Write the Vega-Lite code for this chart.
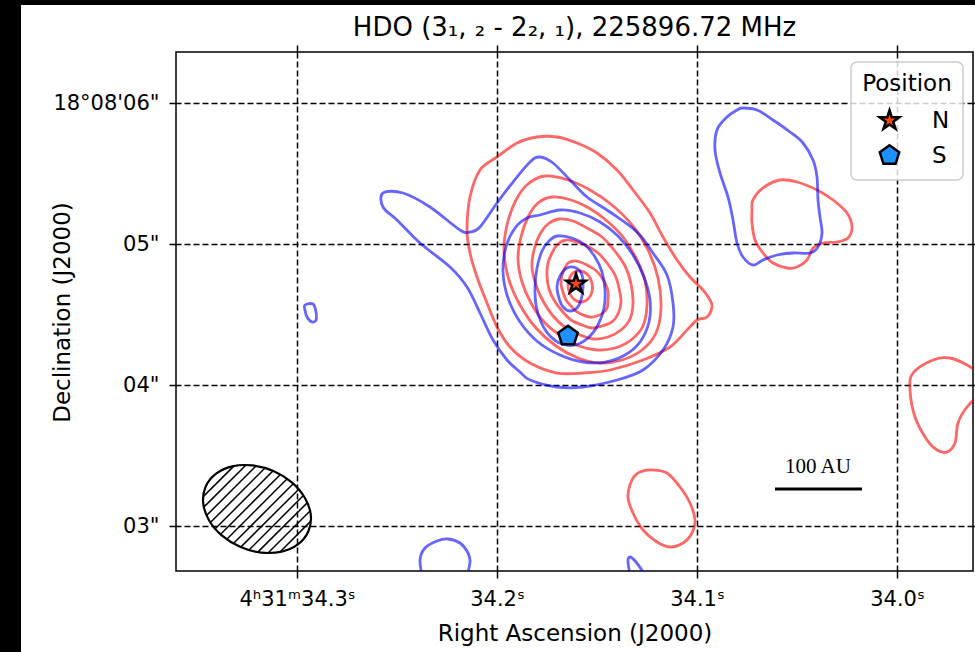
{
"$schema":"https://vega.github.io/schema/vega-lite/v6.json",
"width":797,"height":519,
"autosize":{"type":"none"},
"padding":{"left":176,"top":52,"right":2,"bottom":81},
"background":"white",
"title":{"text":"HDO (3₁, ₂ - 2₂, ₁), 225896.72 MHz","fontSize":26,"font":"DejaVu Sans","fontWeight":"normal","color":"black","anchor":"middle","frame":"group","offset":0,"dy":41},
"datasets":{
"closed":[
{"c":"R1","s":"r","i":1,"ra":34.2150,"de":5.0993},{"c":"R1","s":"r","i":2,"ra":34.2135,"de":5.3334},{"c":"R1","s":"r","i":3,"ra":34.2085,"de":5.5249},{"c":"R1","s":"r","i":4,"ra":34.2000,"de":5.6171},{"c":"R1","s":"r","i":5,"ra":34.1900,"de":5.7163},{"c":"R1","s":"r","i":6,"ra":34.1800,"de":5.7589},{"c":"R1","s":"r","i":7,"ra":34.1700,"de":5.7589},{"c":"R1","s":"r","i":8,"ra":34.1600,"de":5.7163},{"c":"R1","s":"r","i":9,"ra":34.1500,"de":5.6454},{"c":"R1","s":"r","i":10,"ra":34.1400,"de":5.5249},{"c":"R1","s":"r","i":11,"ra":34.1320,"de":5.3830},{"c":"R1","s":"r","i":12,"ra":34.1235,"de":5.2199},{"c":"R1","s":"r","i":13,"ra":34.1170,"de":5.0497},{"c":"R1","s":"r","i":14,"ra":34.1100,"de":4.8866},{"c":"R1","s":"r","i":15,"ra":34.1035,"de":4.7660},{"c":"R1","s":"r","i":16,"ra":34.0970,"de":4.6738},{"c":"R1","s":"r","i":17,"ra":34.0935,"de":4.6029},{"c":"R1","s":"r","i":18,"ra":34.0925,"de":4.5533},{"c":"R1","s":"r","i":19,"ra":34.0950,"de":4.4823},{"c":"R1","s":"r","i":20,"ra":34.1000,"de":4.4611},{"c":"R1","s":"r","i":21,"ra":34.1050,"de":4.3901},{"c":"R1","s":"r","i":22,"ra":34.1135,"de":4.2696},{"c":"R1","s":"r","i":23,"ra":34.1270,"de":4.1773},{"c":"R1","s":"r","i":24,"ra":34.1435,"de":4.1064},{"c":"R1","s":"r","i":25,"ra":34.1570,"de":4.0851},{"c":"R1","s":"r","i":26,"ra":34.1700,"de":4.0851},{"c":"R1","s":"r","i":27,"ra":34.1835,"de":4.1560},{"c":"R1","s":"r","i":28,"ra":34.1935,"de":4.2696},{"c":"R1","s":"r","i":29,"ra":34.2000,"de":4.4114},{"c":"R1","s":"r","i":30,"ra":34.2050,"de":4.5816},{"c":"R1","s":"r","i":31,"ra":34.2100,"de":4.7660},{"c":"R1","s":"r","i":32,"ra":34.2135,"de":4.9362},
{"c":"R2","s":"r","i":1,"ra":34.1760,"de":5.4823},{"c":"R2","s":"r","i":2,"ra":34.1645,"de":5.4539},{"c":"R2","s":"r","i":3,"ra":34.1535,"de":5.3830},{"c":"R2","s":"r","i":4,"ra":34.1425,"de":5.2766},{"c":"R2","s":"r","i":5,"ra":34.1325,"de":5.1348},{"c":"R2","s":"r","i":6,"ra":34.1245,"de":4.9575},{"c":"R2","s":"r","i":7,"ra":34.1195,"de":4.7589},{"c":"R2","s":"r","i":8,"ra":34.1180,"de":4.5462},{"c":"R2","s":"r","i":9,"ra":34.1205,"de":4.3689},{"c":"R2","s":"r","i":10,"ra":34.1275,"de":4.2482},{"c":"R2","s":"r","i":11,"ra":34.1375,"de":4.1773},{"c":"R2","s":"r","i":12,"ra":34.1485,"de":4.1560},{"c":"R2","s":"r","i":13,"ra":34.1595,"de":4.1915},{"c":"R2","s":"r","i":14,"ra":34.1705,"de":4.2767},{"c":"R2","s":"r","i":15,"ra":34.1805,"de":4.4043},{"c":"R2","s":"r","i":16,"ra":34.1885,"de":4.5674},{"c":"R2","s":"r","i":17,"ra":34.1940,"de":4.7447},{"c":"R2","s":"r","i":18,"ra":34.1965,"de":4.9433},{"c":"R2","s":"r","i":19,"ra":34.1950,"de":5.1348},{"c":"R2","s":"r","i":20,"ra":34.1905,"de":5.3121},{"c":"R2","s":"r","i":21,"ra":34.1845,"de":5.4256},
{"c":"R3","s":"r","i":1,"ra":34.1725,"de":5.3334},{"c":"R3","s":"r","i":2,"ra":34.1630,"de":5.3121},{"c":"R3","s":"r","i":3,"ra":34.1540,"de":5.2554},{"c":"R3","s":"r","i":4,"ra":34.1450,"de":5.1632},{"c":"R3","s":"r","i":5,"ra":34.1370,"de":5.0497},{"c":"R3","s":"r","i":6,"ra":34.1305,"de":4.9008},{"c":"R3","s":"r","i":7,"ra":34.1260,"de":4.7376},{"c":"R3","s":"r","i":8,"ra":34.1250,"de":4.5674},{"c":"R3","s":"r","i":9,"ra":34.1270,"de":4.4185},{"c":"R3","s":"r","i":10,"ra":34.1330,"de":4.3192},{"c":"R3","s":"r","i":11,"ra":34.1410,"de":4.2625},{"c":"R3","s":"r","i":12,"ra":34.1500,"de":4.2482},{"c":"R3","s":"r","i":13,"ra":34.1590,"de":4.2767},{"c":"R3","s":"r","i":14,"ra":34.1680,"de":4.3476},{"c":"R3","s":"r","i":15,"ra":34.1765,"de":4.4469},{"c":"R3","s":"r","i":16,"ra":34.1830,"de":4.5816},{"c":"R3","s":"r","i":17,"ra":34.1875,"de":4.7305},{"c":"R3","s":"r","i":18,"ra":34.1895,"de":4.8937},{"c":"R3","s":"r","i":19,"ra":34.1880,"de":5.0497},{"c":"R3","s":"r","i":20,"ra":34.1845,"de":5.1915},{"c":"R3","s":"r","i":21,"ra":34.1795,"de":5.2908},
{"c":"R4","s":"r","i":1,"ra":34.1690,"de":5.1773},{"c":"R4","s":"r","i":2,"ra":34.1620,"de":5.1632},{"c":"R4","s":"r","i":3,"ra":34.1550,"de":5.1135},{"c":"R4","s":"r","i":4,"ra":34.1475,"de":5.0497},{"c":"R4","s":"r","i":5,"ra":34.1415,"de":4.9575},{"c":"R4","s":"r","i":6,"ra":34.1360,"de":4.8440},{"c":"R4","s":"r","i":7,"ra":34.1330,"de":4.7164},{"c":"R4","s":"r","i":8,"ra":34.1320,"de":4.5816},{"c":"R4","s":"r","i":9,"ra":34.1335,"de":4.4681},{"c":"R4","s":"r","i":10,"ra":34.1380,"de":4.3901},{"c":"R4","s":"r","i":11,"ra":34.1445,"de":4.3405},{"c":"R4","s":"r","i":12,"ra":34.1515,"de":4.3263},{"c":"R4","s":"r","i":13,"ra":34.1585,"de":4.3547},{"c":"R4","s":"r","i":14,"ra":34.1655,"de":4.4043},{"c":"R4","s":"r","i":15,"ra":34.1720,"de":4.4894},{"c":"R4","s":"r","i":16,"ra":34.1770,"de":4.5958},{"c":"R4","s":"r","i":17,"ra":34.1805,"de":4.7093},{"c":"R4","s":"r","i":18,"ra":34.1825,"de":4.8369},{"c":"R4","s":"r","i":19,"ra":34.1815,"de":4.9575},{"c":"R4","s":"r","i":20,"ra":34.1785,"de":5.0710},{"c":"R4","s":"r","i":21,"ra":34.1745,"de":5.1419},
{"c":"R5","s":"r","i":1,"ra":34.1655,"de":5.0284},{"c":"R5","s":"r","i":2,"ra":34.1600,"de":5.0142},{"c":"R5","s":"r","i":3,"ra":34.1550,"de":4.9859},{"c":"R5","s":"r","i":4,"ra":34.1495,"de":4.9362},{"c":"R5","s":"r","i":5,"ra":34.1450,"de":4.8653},{"c":"R5","s":"r","i":6,"ra":34.1410,"de":4.7802},{"c":"R5","s":"r","i":7,"ra":34.1390,"de":4.6880},{"c":"R5","s":"r","i":8,"ra":34.1380,"de":4.5887},{"c":"R5","s":"r","i":9,"ra":34.1395,"de":4.5036},{"c":"R5","s":"r","i":10,"ra":34.1425,"de":4.4469},{"c":"R5","s":"r","i":11,"ra":34.1475,"de":4.4185},{"c":"R5","s":"r","i":12,"ra":34.1525,"de":4.4043},{"c":"R5","s":"r","i":13,"ra":34.1575,"de":4.4256},{"c":"R5","s":"r","i":14,"ra":34.1630,"de":4.4611},{"c":"R5","s":"r","i":15,"ra":34.1675,"de":4.5249},{"c":"R5","s":"r","i":16,"ra":34.1715,"de":4.6029},{"c":"R5","s":"r","i":17,"ra":34.1740,"de":4.6809},{"c":"R5","s":"r","i":18,"ra":34.1750,"de":4.7731},{"c":"R5","s":"r","i":19,"ra":34.1745,"de":4.8653},{"c":"R5","s":"r","i":20,"ra":34.1720,"de":4.9504},{"c":"R5","s":"r","i":21,"ra":34.1695,"de":5.0000},
{"c":"R6","s":"r","i":1,"ra":34.1615,"de":4.8795},{"c":"R6","s":"r","i":2,"ra":34.1585,"de":4.8724},{"c":"R6","s":"r","i":3,"ra":34.1550,"de":4.8511},{"c":"R6","s":"r","i":4,"ra":34.1515,"de":4.8227},{"c":"R6","s":"r","i":5,"ra":34.1485,"de":4.7802},{"c":"R6","s":"r","i":6,"ra":34.1460,"de":4.7235},{"c":"R6","s":"r","i":7,"ra":34.1445,"de":4.6667},{"c":"R6","s":"r","i":8,"ra":34.1445,"de":4.6029},{"c":"R6","s":"r","i":9,"ra":34.1450,"de":4.5462},{"c":"R6","s":"r","i":10,"ra":34.1470,"de":4.5107},{"c":"R6","s":"r","i":11,"ra":34.1500,"de":4.4894},{"c":"R6","s":"r","i":12,"ra":34.1535,"de":4.4823},{"c":"R6","s":"r","i":13,"ra":34.1570,"de":4.4965},{"c":"R6","s":"r","i":14,"ra":34.1600,"de":4.5178},{"c":"R6","s":"r","i":15,"ra":34.1630,"de":4.5603},{"c":"R6","s":"r","i":16,"ra":34.1655,"de":4.6029},{"c":"R6","s":"r","i":17,"ra":34.1670,"de":4.6596},{"c":"R6","s":"r","i":18,"ra":34.1680,"de":4.7164},{"c":"R6","s":"r","i":19,"ra":34.1675,"de":4.7802},{"c":"R6","s":"r","i":20,"ra":34.1660,"de":4.8298},{"c":"R6","s":"r","i":21,"ra":34.1645,"de":4.8653},
{"c":"R7","s":"r","i":1,"ra":34.1625,"de":4.7873},{"c":"R7","s":"r","i":2,"ra":34.1585,"de":4.8086},{"c":"R7","s":"r","i":3,"ra":34.1545,"de":4.7802},{"c":"R7","s":"r","i":4,"ra":34.1525,"de":4.7235},{"c":"R7","s":"r","i":5,"ra":34.1525,"de":4.6596},{"c":"R7","s":"r","i":6,"ra":34.1545,"de":4.6100},{"c":"R7","s":"r","i":7,"ra":34.1575,"de":4.5887},{"c":"R7","s":"r","i":8,"ra":34.1610,"de":4.6029},{"c":"R7","s":"r","i":9,"ra":34.1635,"de":4.6454},{"c":"R7","s":"r","i":10,"ra":34.1645,"de":4.7093},
{"c":"R8","s":"r","i":1,"ra":34.0720,"de":5.3121},{"c":"R8","s":"r","i":2,"ra":34.0670,"de":5.3972},{"c":"R8","s":"r","i":3,"ra":34.0585,"de":5.4539},{"c":"R8","s":"r","i":4,"ra":34.0500,"de":5.4397},{"c":"R8","s":"r","i":5,"ra":34.0400,"de":5.3830},{"c":"R8","s":"r","i":6,"ra":34.0320,"de":5.3121},{"c":"R8","s":"r","i":7,"ra":34.0250,"de":5.2199},{"c":"R8","s":"r","i":8,"ra":34.0225,"de":5.1206},{"c":"R8","s":"r","i":9,"ra":34.0245,"de":5.0426},{"c":"R8","s":"r","i":10,"ra":34.0300,"de":5.0142},{"c":"R8","s":"r","i":11,"ra":34.0370,"de":5.0071},{"c":"R8","s":"r","i":12,"ra":34.0420,"de":4.9717},{"c":"R8","s":"r","i":13,"ra":34.0450,"de":4.8866},{"c":"R8","s":"r","i":14,"ra":34.0500,"de":4.8369},{"c":"R8","s":"r","i":15,"ra":34.0550,"de":4.8298},{"c":"R8","s":"r","i":16,"ra":34.0620,"de":4.8653},{"c":"R8","s":"r","i":17,"ra":34.0670,"de":4.9362},{"c":"R8","s":"r","i":18,"ra":34.0710,"de":5.0284},{"c":"R8","s":"r","i":19,"ra":34.0725,"de":5.1490},{"c":"R8","s":"r","i":20,"ra":34.0725,"de":5.2412},
{"c":"R10","s":"r","i":1,"ra":34.1220,"de":3.3972},{"c":"R10","s":"r","i":2,"ra":34.1150,"de":3.3759},{"c":"R10","s":"r","i":3,"ra":34.1085,"de":3.2766},{"c":"R10","s":"r","i":4,"ra":34.1035,"de":3.1631},{"c":"R10","s":"r","i":5,"ra":34.1010,"de":3.0426},{"c":"R10","s":"r","i":6,"ra":34.1025,"de":2.9504},{"c":"R10","s":"r","i":7,"ra":34.1070,"de":2.8794},{"c":"R10","s":"r","i":8,"ra":34.1135,"de":2.8511},{"c":"R10","s":"r","i":9,"ra":34.1200,"de":2.8865},{"c":"R10","s":"r","i":10,"ra":34.1270,"de":2.9716},{"c":"R10","s":"r","i":11,"ra":34.1320,"de":3.0922},{"c":"R10","s":"r","i":12,"ra":34.1345,"de":3.2057},{"c":"R10","s":"r","i":13,"ra":34.1325,"de":3.3262},{"c":"R10","s":"r","i":14,"ra":34.1285,"de":3.3830},
{"c":"B1","s":"b","i":1,"ra":34.2570,"de":5.3617},{"c":"B1","s":"b","i":2,"ra":34.2470,"de":5.3617},{"c":"B1","s":"b","i":3,"ra":34.2335,"de":5.2625},{"c":"B1","s":"b","i":4,"ra":34.2185,"de":5.0993},{"c":"B1","s":"b","i":5,"ra":34.2135,"de":5.0851},{"c":"B1","s":"b","i":6,"ra":34.2085,"de":5.1206},{"c":"B1","s":"b","i":7,"ra":34.2000,"de":5.2908},{"c":"B1","s":"b","i":8,"ra":34.1920,"de":5.4397},{"c":"B1","s":"b","i":9,"ra":34.1835,"de":5.5816},{"c":"B1","s":"b","i":10,"ra":34.1785,"de":5.6171},{"c":"B1","s":"b","i":11,"ra":34.1720,"de":5.5745},{"c":"B1","s":"b","i":12,"ra":34.1635,"de":5.4539},{"c":"B1","s":"b","i":13,"ra":34.1550,"de":5.3334},{"c":"B1","s":"b","i":14,"ra":34.1435,"de":5.2270},{"c":"B1","s":"b","i":15,"ra":34.1300,"de":5.0851},{"c":"B1","s":"b","i":16,"ra":34.1220,"de":4.9362},{"c":"B1","s":"b","i":17,"ra":34.1150,"de":4.7802},{"c":"B1","s":"b","i":18,"ra":34.1120,"de":4.5816},{"c":"B1","s":"b","i":19,"ra":34.1120,"de":4.4114},{"c":"B1","s":"b","i":20,"ra":34.1170,"de":4.2482},{"c":"B1","s":"b","i":21,"ra":34.1270,"de":4.1064},{"c":"B1","s":"b","i":22,"ra":34.1400,"de":4.0354},{"c":"B1","s":"b","i":23,"ra":34.1570,"de":3.9858},{"c":"B1","s":"b","i":24,"ra":34.1700,"de":3.9858},{"c":"B1","s":"b","i":25,"ra":34.1835,"de":4.0354},{"c":"B1","s":"b","i":26,"ra":34.1885,"de":4.0922},{"c":"B1","s":"b","i":27,"ra":34.1950,"de":4.1773},{"c":"B1","s":"b","i":28,"ra":34.2020,"de":4.3192},{"c":"B1","s":"b","i":29,"ra":34.2085,"de":4.5107},{"c":"B1","s":"b","i":30,"ra":34.2150,"de":4.6951},{"c":"B1","s":"b","i":31,"ra":34.2235,"de":4.8369},{"c":"B1","s":"b","i":32,"ra":34.2385,"de":5.0071},{"c":"B1","s":"b","i":33,"ra":34.2500,"de":5.1703},{"c":"B1","s":"b","i":34,"ra":34.2570,"de":5.2625},
{"c":"B2","s":"b","i":1,"ra":34.1785,"de":5.2057},{"c":"B2","s":"b","i":2,"ra":34.1685,"de":5.2412},{"c":"B2","s":"b","i":3,"ra":34.1585,"de":5.2199},{"c":"B2","s":"b","i":4,"ra":34.1485,"de":5.1561},{"c":"B2","s":"b","i":5,"ra":34.1395,"de":5.0568},{"c":"B2","s":"b","i":6,"ra":34.1320,"de":4.9220},{"c":"B2","s":"b","i":7,"ra":34.1265,"de":4.7660},{"c":"B2","s":"b","i":8,"ra":34.1235,"de":4.6029},{"c":"B2","s":"b","i":9,"ra":34.1240,"de":4.4469},{"c":"B2","s":"b","i":10,"ra":34.1285,"de":4.3050},{"c":"B2","s":"b","i":11,"ra":34.1360,"de":4.2127},{"c":"B2","s":"b","i":12,"ra":34.1460,"de":4.1631},{"c":"B2","s":"b","i":13,"ra":34.1570,"de":4.1631},{"c":"B2","s":"b","i":14,"ra":34.1685,"de":4.2127},{"c":"B2","s":"b","i":15,"ra":34.1795,"de":4.3050},{"c":"B2","s":"b","i":16,"ra":34.1885,"de":4.4469},{"c":"B2","s":"b","i":17,"ra":34.1945,"de":4.6171},{"c":"B2","s":"b","i":18,"ra":34.1970,"de":4.8015},{"c":"B2","s":"b","i":19,"ra":34.1955,"de":4.9788},{"c":"B2","s":"b","i":20,"ra":34.1910,"de":5.1135},{"c":"B2","s":"b","i":21,"ra":34.1850,"de":5.1844},
{"c":"B3","s":"b","i":1,"ra":34.1700,"de":5.0568},{"c":"B3","s":"b","i":2,"ra":34.1625,"de":5.0426},{"c":"B3","s":"b","i":3,"ra":34.1560,"de":4.9930},{"c":"B3","s":"b","i":4,"ra":34.1510,"de":4.9079},{"c":"B3","s":"b","i":5,"ra":34.1475,"de":4.8015},{"c":"B3","s":"b","i":6,"ra":34.1460,"de":4.6738},{"c":"B3","s":"b","i":7,"ra":34.1465,"de":4.5462},{"c":"B3","s":"b","i":8,"ra":34.1495,"de":4.4256},{"c":"B3","s":"b","i":9,"ra":34.1545,"de":4.3334},{"c":"B3","s":"b","i":10,"ra":34.1610,"de":4.2838},{"c":"B3","s":"b","i":11,"ra":34.1675,"de":4.2908},{"c":"B3","s":"b","i":12,"ra":34.1735,"de":4.3476},{"c":"B3","s":"b","i":13,"ra":34.1780,"de":4.4469},{"c":"B3","s":"b","i":14,"ra":34.1805,"de":4.5674},{"c":"B3","s":"b","i":15,"ra":34.1810,"de":4.6951},{"c":"B3","s":"b","i":16,"ra":34.1800,"de":4.8298},{"c":"B3","s":"b","i":17,"ra":34.1775,"de":4.9504},{"c":"B3","s":"b","i":18,"ra":34.1740,"de":5.0213},
{"c":"B4","s":"b","i":1,"ra":34.1685,"de":4.7731},{"c":"B4","s":"b","i":2,"ra":34.1650,"de":4.8298},{"c":"B4","s":"b","i":3,"ra":34.1605,"de":4.8298},{"c":"B4","s":"b","i":4,"ra":34.1575,"de":4.7802},{"c":"B4","s":"b","i":5,"ra":34.1570,"de":4.6880},{"c":"B4","s":"b","i":6,"ra":34.1580,"de":4.6029},{"c":"B4","s":"b","i":7,"ra":34.1600,"de":4.5462},{"c":"B4","s":"b","i":8,"ra":34.1635,"de":4.5249},{"c":"B4","s":"b","i":9,"ra":34.1670,"de":4.5533},{"c":"B4","s":"b","i":10,"ra":34.1690,"de":4.6171},{"c":"B4","s":"b","i":11,"ra":34.1700,"de":4.6951},
{"c":"B5","s":"b","i":1,"ra":34.0770,"de":5.9646},{"c":"B5","s":"b","i":2,"ra":34.0700,"de":5.9504},{"c":"B5","s":"b","i":3,"ra":34.0620,"de":5.8795},{"c":"B5","s":"b","i":4,"ra":34.0535,"de":5.7943},{"c":"B5","s":"b","i":5,"ra":34.0470,"de":5.7163},{"c":"B5","s":"b","i":6,"ra":34.0420,"de":5.5958},{"c":"B5","s":"b","i":7,"ra":34.0400,"de":5.4752},{"c":"B5","s":"b","i":8,"ra":34.0395,"de":5.3121},{"c":"B5","s":"b","i":9,"ra":34.0385,"de":5.1915},{"c":"B5","s":"b","i":10,"ra":34.0375,"de":5.0781},{"c":"B5","s":"b","i":11,"ra":34.0395,"de":4.9788},{"c":"B5","s":"b","i":12,"ra":34.0435,"de":4.9362},{"c":"B5","s":"b","i":13,"ra":34.0520,"de":4.9362},{"c":"B5","s":"b","i":14,"ra":34.0600,"de":4.9220},{"c":"B5","s":"b","i":15,"ra":34.0670,"de":4.8866},{"c":"B5","s":"b","i":16,"ra":34.0720,"de":4.8511},{"c":"B5","s":"b","i":17,"ra":34.0770,"de":4.9079},{"c":"B5","s":"b","i":18,"ra":34.0800,"de":5.0071},{"c":"B5","s":"b","i":19,"ra":34.0820,"de":5.1703},{"c":"B5","s":"b","i":20,"ra":34.0845,"de":5.3334},{"c":"B5","s":"b","i":21,"ra":34.0885,"de":5.5036},{"c":"B5","s":"b","i":22,"ra":34.0910,"de":5.6667},{"c":"B5","s":"b","i":23,"ra":34.0900,"de":5.8085},{"c":"B5","s":"b","i":24,"ra":34.0850,"de":5.9007},{"c":"B5","s":"b","i":25,"ra":34.0800,"de":5.9504},
{"c":"B8","s":"b","i":1,"ra":34.2960,"de":4.5674},{"c":"B8","s":"b","i":2,"ra":34.2920,"de":4.5745},{"c":"B8","s":"b","i":3,"ra":34.2905,"de":4.5178},{"c":"B8","s":"b","i":4,"ra":34.2905,"de":4.4611},{"c":"B8","s":"b","i":5,"ra":34.2925,"de":4.4469},{"c":"B8","s":"b","i":6,"ra":34.2950,"de":4.4823},{"c":"B8","s":"b","i":7,"ra":34.2960,"de":4.5320}
],
"open":[
{"c":"R9","s":"r","i":1,"ra":33.9575,"de":3.9503},{"c":"R9","s":"r","i":2,"ra":33.9650,"de":3.8440},{"c":"R9","s":"r","i":3,"ra":33.9695,"de":3.7305},{"c":"R9","s":"r","i":4,"ra":33.9710,"de":3.5886},{"c":"R9","s":"r","i":5,"ra":33.9750,"de":3.5248},{"c":"R9","s":"r","i":6,"ra":33.9800,"de":3.5390},{"c":"R9","s":"r","i":7,"ra":33.9850,"de":3.6099},{"c":"R9","s":"r","i":8,"ra":33.9910,"de":3.7730},{"c":"R9","s":"r","i":9,"ra":33.9935,"de":3.9645},{"c":"R9","s":"r","i":10,"ra":33.9920,"de":4.0851},{"c":"R9","s":"r","i":11,"ra":33.9820,"de":4.1773},{"c":"R9","s":"r","i":12,"ra":33.9735,"de":4.1915},{"c":"R9","s":"r","i":13,"ra":33.9650,"de":4.1418},{"c":"R9","s":"r","i":14,"ra":33.9575,"de":4.0709},
{"c":"B6","s":"b","i":1,"ra":34.2370,"de":2.6170},{"c":"B6","s":"b","i":2,"ra":34.2385,"de":2.7589},{"c":"B6","s":"b","i":3,"ra":34.2360,"de":2.8440},{"c":"B6","s":"b","i":4,"ra":34.2300,"de":2.8936},{"c":"B6","s":"b","i":5,"ra":34.2245,"de":2.9078},{"c":"B6","s":"b","i":6,"ra":34.2185,"de":2.8794},{"c":"B6","s":"b","i":7,"ra":34.2145,"de":2.8085},{"c":"B6","s":"b","i":8,"ra":34.2135,"de":2.7447},{"c":"B6","s":"b","i":9,"ra":34.2155,"de":2.6170},
{"c":"B7","s":"b","i":1,"ra":34.1330,"de":2.6170},{"c":"B7","s":"b","i":2,"ra":34.1345,"de":2.7447},{"c":"B7","s":"b","i":3,"ra":34.1335,"de":2.7802},{"c":"B7","s":"b","i":4,"ra":34.1305,"de":2.7447},{"c":"B7","s":"b","i":5,"ra":34.1260,"de":2.6525}
],
"beam":[
{"i":1,"ra":34.2943,"de":2.9631},{"i":2,"ra":34.2994,"de":2.8716},{"i":3,"ra":34.3077,"de":2.8185},{"i":4,"ra":34.3178,"de":2.8114},{"i":5,"ra":34.3282,"de":2.8511},{"i":6,"ra":34.3375,"de":2.9320},{"i":7,"ra":34.3440,"de":3.0411},{"i":8,"ra":34.3469,"de":3.1624},{"i":9,"ra":34.3457,"de":3.2780},{"i":10,"ra":34.3406,"de":3.3695},{"i":11,"ra":34.3324,"de":3.4227},{"i":12,"ra":34.3223,"de":3.4298},{"i":13,"ra":34.3118,"de":3.3901},{"i":14,"ra":34.3026,"de":3.3092},{"i":15,"ra":34.2961,"de":3.2001},{"i":16,"ra":34.2931,"de":3.0787}
],
"hatch":[
{"ra":34.3316,"de":3.4248,"ra2":34.3470,"de2":3.2064},{"ra":34.3255,"de":3.4326,"ra2":34.3466,"de2":3.1340},{"ra":34.3205,"de":3.4262,"ra2":34.3452,"de2":3.0752},{"ra":34.3160,"de":3.4113,"ra2":34.3433,"de2":3.0248},{"ra":34.3120,"de":3.3908,"ra2":34.3409,"de2":2.9801},{"ra":34.3083,"de":3.3652,"ra2":34.3382,"de2":2.9411},{"ra":34.3049,"de":3.3347,"ra2":34.3351,"de2":2.9064},{"ra":34.3019,"de":3.3000,"ra2":34.3318,"de2":2.8759},{"ra":34.2991,"de":3.2610,"ra2":34.3281,"de2":2.8504},{"ra":34.2968,"de":3.2163,"ra2":34.3240,"de2":2.8298},{"ra":34.2948,"de":3.1660,"ra2":34.3196,"de2":2.8149},{"ra":34.2935,"de":3.1071,"ra2":34.3145,"de2":2.8085},{"ra":34.2931,"de":3.0347,"ra2":34.3085,"de2":2.8163}
],
"bar":[{"ra":34.0610,"ra2":34.0175,"de":3.2624}],
"txt":[{"ra":34.0395,"de":3.4184,"t":"100 AU"}],
"pos":[{"ra":34.1605,"de":4.7164,"p":"N"},{"ra":34.1645,"de":4.3476,"p":"S"}],
"bands":[{"ra":34.5,"ra2":34.4380,"de":6.7305,"de2":2.0},{"ra":34.5,"ra2":33.9,"de":6.7305,"de2":6.695}]
},
"resolve":{"axis":{"x":"independent","y":"independent"}},
"layer":[
{"data":{"name":"closed"},
 "mark":{"type":"line","interpolate":"cardinal-closed","strokeWidth":2.8,"strokeOpacity":0.6,"clip":true},
 "encoding":{
  "x":{"field":"ra","type":"quantitative","scale":{"domain":[33.962,34.3605],"reverse":true,"nice":false,"zero":false},
       "axis":{"values":[34.3,34.2,34.1,34.0],"labelExpr":"datum.value > 34.25 ? '4ʰ31ᵐ34.3ˢ' : format(datum.value, '.1f') + 'ˢ'","title":"Right Ascension (J2000)","titleX":398.5,"titleY":62,"titleBaseline":"middle","labelPadding":10}},
  "y":{"field":"de","type":"quantitative","scale":{"domain":[2.6809,6.3617],"nice":false,"zero":false},
       "axis":{"values":[3,4,5,6],"labelExpr":"datum.value > 5.5 ? '18°08\\'06\"' : '0' + datum.value + '\"'","title":"Declination (J2000)","titleX":-114,"titleY":260,"titleBaseline":"middle","labelPadding":10}},
  "detail":{"field":"c"},
  "order":{"field":"i","type":"quantitative"},
  "color":{"field":"s","type":"nominal","scale":{"domain":["r","b"],"range":["red","blue"]},"legend":null}
 }},
{"data":{"name":"open"},
 "mark":{"type":"line","interpolate":"cardinal","strokeWidth":2.8,"strokeOpacity":0.6,"clip":true},
 "encoding":{
  "x":{"field":"ra","type":"quantitative","axis":null},
  "y":{"field":"de","type":"quantitative","axis":null},
  "detail":{"field":"c"},
  "order":{"field":"i","type":"quantitative"},
  "color":{"field":"s","type":"nominal","legend":null}
 }},
{"data":{"name":"beam"},
 "mark":{"type":"line","interpolate":"cardinal-closed","strokeWidth":2.2,"color":"black"},
 "encoding":{
  "x":{"field":"ra","type":"quantitative","axis":null},
  "y":{"field":"de","type":"quantitative","axis":null},
  "order":{"field":"i","type":"quantitative"}
 }},
{"data":{"name":"hatch"},
 "mark":{"type":"rule","strokeWidth":1.5,"color":"black"},
 "encoding":{
  "x":{"field":"ra","type":"quantitative","axis":null},
  "y":{"field":"de","type":"quantitative","axis":null},
  "x2":{"field":"ra2"},
  "y2":{"field":"de2"}
 }},
{"data":{"name":"bar"},
 "mark":{"type":"rule","strokeWidth":3,"color":"black"},
 "encoding":{
  "x":{"field":"ra","type":"quantitative","axis":null},
  "x2":{"field":"ra2"},
  "y":{"field":"de","type":"quantitative","axis":null}
 }},
{"data":{"name":"txt"},
 "mark":{"type":"text","font":"Liberation Serif","fontSize":21,"color":"black","align":"center","baseline":"middle"},
 "encoding":{
  "x":{"field":"ra","type":"quantitative","axis":null},
  "y":{"field":"de","type":"quantitative","axis":null},
  "text":{"field":"t"}
 }},
{"data":{"name":"pos"},
 "mark":{"type":"point","filled":true,"strokeWidth":2.5,"size":420,"opacity":1},
 "encoding":{
  "x":{"field":"ra","type":"quantitative","axis":null},
  "y":{"field":"de","type":"quantitative","axis":null},
  "shape":{"field":"p","type":"nominal","title":"Position","scale":{"domain":["N","S"],"range":["M0,-1L0.223,-0.307L0.951,-0.309L0.361,0.117L0.588,0.809L0,0.38L-0.588,0.809L-0.361,0.117L-0.951,-0.309L-0.223,-0.307Z","M0,-1L0.951,-0.309L0.588,0.809L-0.588,0.809L-0.951,-0.309Z"]}},
  "fill":{"field":"p","type":"nominal","title":"Position","scale":{"domain":["N","S"],"range":["#ff4500","#1e90ff"]}},
  "stroke":{"field":"p","type":"nominal","title":"Position","scale":{"domain":["N","S"],"range":["black","black"]}}
 }},
{"data":{"name":"bands"},
 "mark":{"type":"rect","color":"black","clip":false},
 "encoding":{
  "x":{"field":"ra","type":"quantitative","axis":{"orient":"top","values":[34.3,34.2,34.1,34.0],"labels":false,"grid":false,"title":null}},
  "x2":{"field":"ra2"},
  "y":{"field":"de","type":"quantitative","axis":{"orient":"right","values":[3,4,5,6],"labels":false,"grid":false,"title":null}},
  "y2":{"field":"de2"}
 }}
],
"config":{
 "font":"DejaVu Sans",
 "view":{"stroke":"black","strokeWidth":1.5},
 "axis":{"domain":false,"grid":true,"gridColor":"black","gridDash":[6,3],"gridWidth":1.5,"gridOpacity":1,"ticks":true,"tickColor":"black","tickSize":7,"tickWidth":1.5,"labelFontSize":21,"labelColor":"black","labelFont":"DejaVu Sans","labelFlush":false,"labelOverlap":false,"titleFontSize":23,"titleFontWeight":"normal","titleColor":"black","titleFont":"DejaVu Sans"},
 "legend":{"orient":"top-right","offset":10,"padding":11,"cornerRadius":6,"fillColor":"rgba(255,255,255,0.8)","strokeColor":"#cccccc","strokeWidth":1.5,"titleFontSize":23,"titleFontWeight":"normal","titleColor":"black","titleFont":"DejaVu Sans","titleAnchor":"middle","titlePadding":13,"labelFontSize":23,"labelColor":"black","labelFont":"DejaVu Sans","labelOffset":31,"symbolOffset":13,"symbolSize":420,"symbolStrokeColor":"black","symbolStrokeWidth":2.5,"rowPadding":6}
}
}
